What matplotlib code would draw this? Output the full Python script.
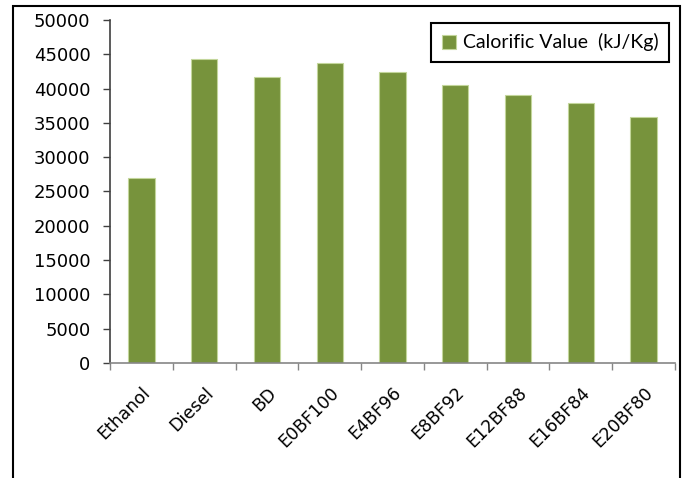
import matplotlib
matplotlib.use("Agg")
import matplotlib.pyplot as plt
from matplotlib.patches import Rectangle

# calorific value of each fuel blend (kJ/Kg)
fuels = ["Ethanol", "Diesel", "BD", "E0BF100", "E4BF96", "E8BF92",
         "E12BF88", "E16BF84", "E20BF80"]
calorific = [27000, 44300, 41700, 43800, 42400, 40500, 39100, 37900, 35900]
yticks = [0, 5000, 10000, 15000, 20000, 25000, 30000, 35000, 40000, 45000, 50000]

fig = plt.figure(figsize=(6.86, 4.78), dpi=100)
ax = fig.add_axes([0.1603, 0.2406, 0.8237, 0.7176])

x = list(range(len(fuels)))
ax.bar(x, calorific, width=0.42, color="#77933C", edgecolor="#C3D69B",
       linewidth=0.8, label="Calorific Value  (kJ/Kg)", zorder=2)

ax.set_xlim(-0.5, len(fuels) - 0.5)
ax.set_ylim(0, 50000)
ax.set_yticks(yticks)
ax.set_yticklabels([str(v) for v in yticks], fontsize=13, family="DejaVu Sans")

# category ticks sit between the bars
ax.set_xticks([i - 0.5 for i in range(len(fuels) + 1)])
ax.set_xticklabels([])
ax.set_xticks(x, minor=True)
ax.set_xticklabels(fuels, minor=True, rotation=45, ha="right",
                   rotation_mode="anchor", fontsize=12.5, family="DejaVu Sans")
ax.tick_params(axis="x", which="minor", length=0, pad=15)
ax.tick_params(axis="x", which="major", length=5, color="#868686", width=1)
ax.tick_params(axis="y", length=5, color="#404040", width=1, pad=9)

for s in ["top", "right"]:
    ax.spines[s].set_visible(False)
ax.spines["left"].set_color("#404040")
ax.spines["bottom"].set_color("#868686")
ax.spines["left"].set_linewidth(1.2)
ax.spines["bottom"].set_linewidth(1.2)

leg = ax.legend(loc="upper right", bbox_to_anchor=(0.99, 0.992), fancybox=False,
                framealpha=1, edgecolor="black", handlelength=0.75,
                handleheight=0.75, handletextpad=0.35, borderpad=0.55,
                borderaxespad=0, prop={"family": "Lato", "size": 14})
leg.get_frame().set_linewidth(1.5)

# outer frame round the whole chart
fig.patches.append(Rectangle((13 / 686, -0.05), (680 - 13) / 686, 1.05 - 6 / 478,
                             transform=fig.transFigure, fill=False,
                             edgecolor="black", linewidth=1.5))

fig.savefig("out.png", dpi=100)
